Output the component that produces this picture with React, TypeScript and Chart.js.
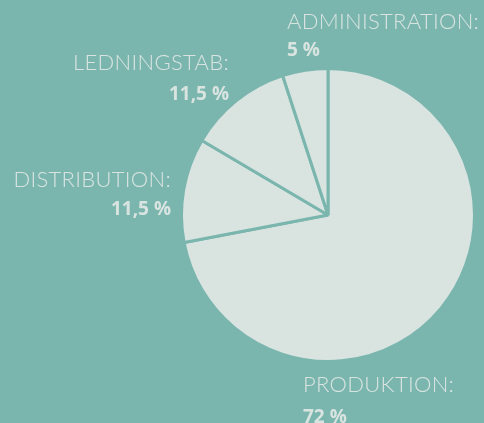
import React, { useEffect, useRef } from "react";
import { Chart, registerables } from "chart.js";

Chart.register(...registerables);

const categories = ["PRODUKTION:", "DISTRIBUTION:", "LEDNINGSTAB:", "ADMINISTRATION:"];
const values = [72, 11.5, 11.5, 5];
const valueLabels = ["72 %", "11,5 %", "11,5 %", "5 %"];

const BG = "#7ab6ae";
const SLICE = "#d9e4e1";
const TEXT = "#d9e4e1";

// label anchor layout: [x, titleBaseline, valueBaseline, align]
const labelLayout: [number, number, number, CanvasTextAlign][] = [
  [303, 392, 423, "left"],
  [171, 187, 215, "right"],
  [229, 70, 100, "right"],
  [287, 29, 56, "left"],
];

const labelPlugin = {
  id: "sideLabels",
  afterDraw(chart: any) {
    const ctx = chart.ctx;
    ctx.save();
    ctx.fillStyle = TEXT;
    ctx.textBaseline = "alphabetic";
    categories.forEach((c, i) => {
      const [x, y1, y2, align] = labelLayout[i];
      ctx.textAlign = align;
      ctx.font = "300 22px Lato";
      (ctx as any).letterSpacing = "0.3px";
      ctx.fillText(c, x, y1);
      (ctx as any).letterSpacing = "0px";
      ctx.font = "bold 19px 'Open Sans'";
      ctx.fillText(valueLabels[i], x, y2);
    });
    ctx.restore();
  },
};

export default function App() {
  const ref = useRef<HTMLCanvasElement>(null);
  useEffect(() => {
    document.body.style.margin = "0";
    const chart = new Chart(ref.current!, {
      type: "pie",
      data: {
        labels: categories,
        datasets: [
          {
            data: values,
            backgroundColor: SLICE,
            borderColor: BG,
            borderWidth: 3,
          },
        ],
      },
      options: {
        responsive: false,
        animation: false,
        layout: { padding: { left: 180, right: 8, top: 67, bottom: 60 } },
        plugins: { legend: { display: false }, tooltip: { enabled: false } },
      },
      plugins: [labelPlugin],
    });
    return () => chart.destroy();
  }, []);
  return (
    <div style={{ position: "fixed", left: 0, top: 0, width: 484, height: 423, background: BG }}>
      <canvas ref={ref} width={484} height={423} style={{ display: "block" }} />
    </div>
  );
}
